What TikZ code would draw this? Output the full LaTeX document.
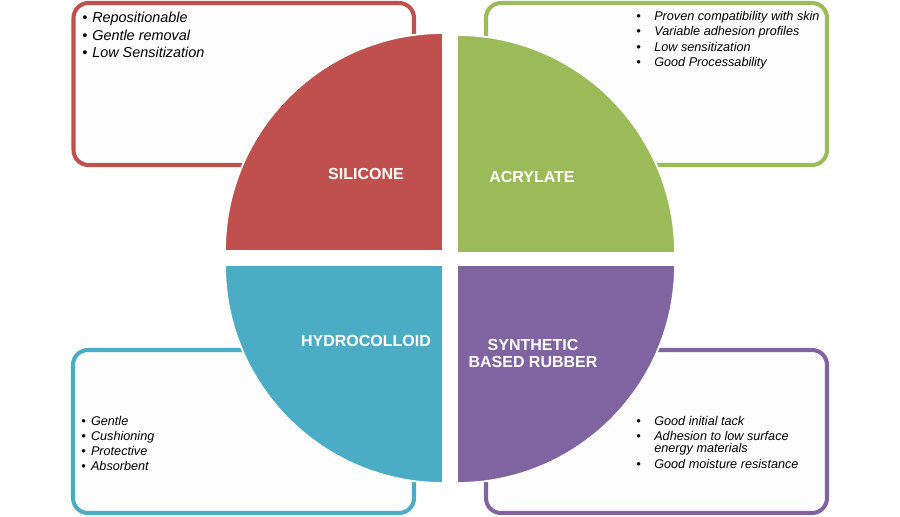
\documentclass[tikz,border=0pt]{standalone}
\usepackage{fontspec}
\setmainfont{Liberation Sans}
\usetikzlibrary{positioning}
\definecolor{silred}{HTML}{C0504D}
\definecolor{acrgreen}{HTML}{9BBB59}
\definecolor{hydblue}{HTML}{4BACC6}
\definecolor{synpurple}{HTML}{8064A2}
\definecolor{boxfill}{HTML}{FDFDFD}

\begin{document}
\begin{tikzpicture}[
  frame/.style={line width=2.3pt,rounded corners=8.5pt,fill=boxfill},
  quad/.style={draw=white,line width=1pt},
  lbl/.style={text=white,font=\bfseries\fontsize{9.1}{9.7}\selectfont,align=center,inner sep=0pt},
  lst/.style={anchor=base west,inner sep=0pt,font=\itshape\fontsize{7.2}{8.7}\selectfont}
]
\useasboundingbox (0,0) rectangle (18,10.32);

% feature boxes (behind the circle)
\draw[frame,draw=silred]    (1.47,7.02) rectangle (8.28,10.26);
\draw[frame,draw=acrgreen]  (9.72,7.02) rectangle (16.54,10.26);
\draw[frame,draw=hydblue]   (1.46,0.06) rectangle (8.28,3.32);
\draw[frame,draw=synpurple] (9.72,0.06) rectangle (16.54,3.32);

% circle quarters
\filldraw[quad,fill=silred]    (8.86,5.30) -- ++(-4.36,0) arc[start angle=180,end angle=90,radius=4.36] -- cycle;
\filldraw[quad,fill=acrgreen]  (9.14,5.26) -- ++(0,4.36) arc[start angle=90,end angle=0,radius=4.36] -- cycle;
\filldraw[quad,fill=hydblue]   (8.86,5.02) -- ++(-4.36,0) arc[start angle=180,end angle=270,radius=4.36] -- cycle;
\filldraw[quad,fill=synpurple] (9.14,5.02) -- ++(0,-4.36) arc[start angle=270,end angle=360,radius=4.36] -- cycle;

% quarter labels
\node[lbl] (sil) at (7.32,6.84)  {SILICONE};
\node[lbl] (acr) at (10.64,6.78) {ACRYLATE};
\node[lbl] (hyd) at (7.32,3.50)  {HYDROCOLLOID};
\node[lbl] (syn) at (10.66,3.25) {SYNTHETIC\\BASED RUBBER};

% bullet lists
\node[lst,font=\itshape\fontsize{8.2}{10.07}\selectfont] (sil-list) at (1.64,9.87)
  {\begin{tabular}[t]{@{}l@{\hspace{2.8pt}}l@{}}
   \textbullet & Repositionable\\
   \textbullet & Gentle removal\\
   \textbullet & Low Sensitization
   \end{tabular}};
\node[lst] (acr-list) at (12.72,9.906)
  {\begin{tabular}[t]{@{}l@{\hspace{7.7pt}}l@{}}
   \textbullet & Proven compatibility with skin\\
   \textbullet & Variable adhesion profiles\\
   \textbullet & Low sensitization\\
   \textbullet & Good Processability
   \end{tabular}};
\node[lst] (hyd-list) at (1.62,1.82)
  {\begin{tabular}[t]{@{}l@{\hspace{3pt}}l@{}}
   \textbullet & Gentle\\
   \textbullet & Cushioning\\
   \textbullet & Protective\\
   \textbullet & Absorbent
   \end{tabular}};
\node[lst] (syn-list) at (12.72,1.82)
  {\begin{tabular}[t]{@{}l@{\hspace{7.7pt}}l@{}}
   \textbullet & Good initial tack\\
   \textbullet & Adhesion to low surface\\[-1.6pt]
               & energy materials\\
   \textbullet & Good moisture resistance
   \end{tabular}};
\end{tikzpicture}
\end{document}
